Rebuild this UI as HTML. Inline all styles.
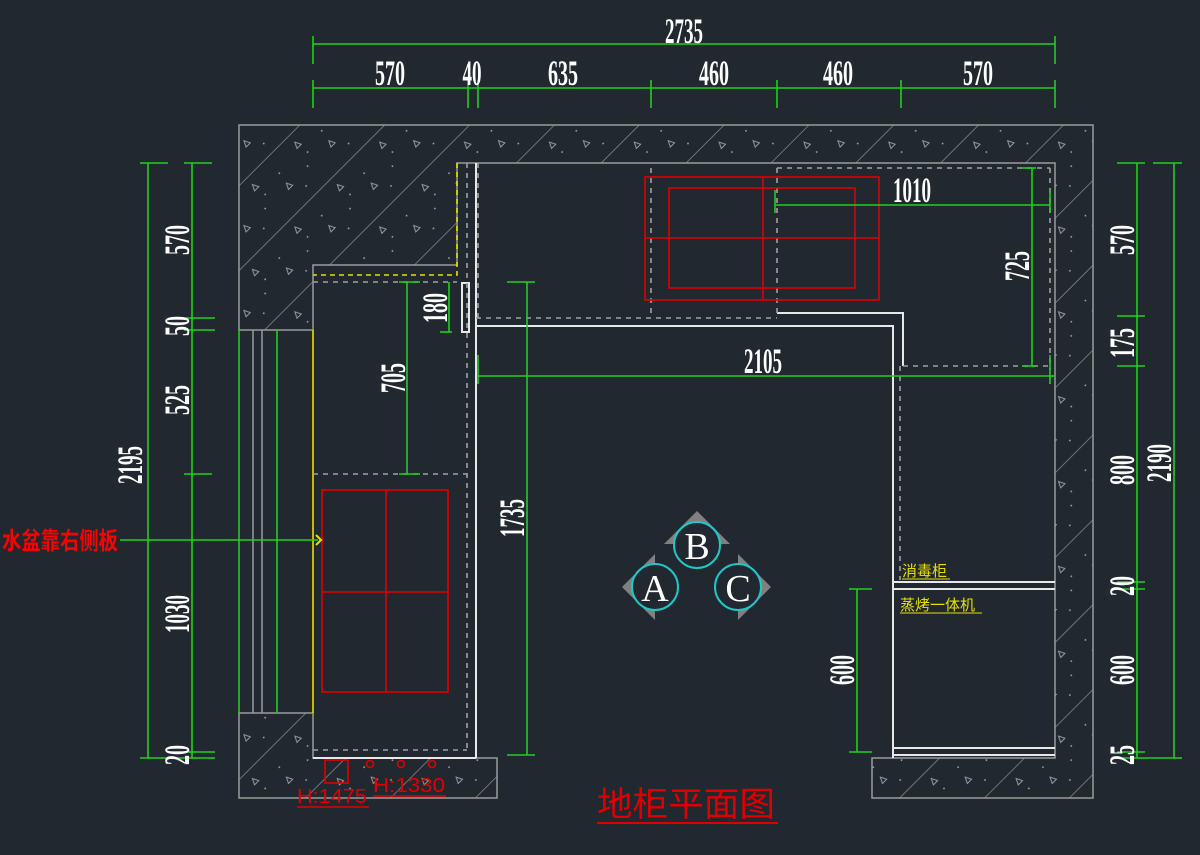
<!DOCTYPE html>
<html><head><meta charset="utf-8"><style>
html,body{margin:0;padding:0;background:#212830;}
svg{display:block}
.d{font-family:"Liberation Serif",serif;font-size:36px;font-weight:bold;fill:#fff;}
.g{stroke:#1fd01f;stroke-width:1.6;fill:none}
.w{stroke:#e8e8e8;stroke-width:2;fill:none}
.gr{stroke:#9a9a9a;stroke-width:1.5;fill:none}
.ds{stroke:#a0a0a0;stroke-width:1.6;fill:none;stroke-dasharray:5 5}
.yd{stroke:#e8e000;stroke-width:1.6;fill:none;stroke-dasharray:5 4}
.r{stroke:#e00000;stroke-width:1.6;fill:none}
</style></head><body>
<svg width="1200" height="855" viewBox="0 0 1200 855" xmlns="http://www.w3.org/2000/svg">
<defs>
<pattern id="h" width="60" height="60" patternUnits="userSpaceOnUse" patternTransform="rotate(-45)">
<rect width="60" height="60" fill="#212830"/>
<line x1="0" y1="0" x2="60" y2="0" stroke="#8a8a8a" stroke-width="1.6"/>
<circle cx="15" cy="20" r="0.9" fill="#aaa"/><circle cx="40" cy="35" r="0.9" fill="#aaa"/><circle cx="25" cy="48" r="0.9" fill="#aaa"/><circle cx="50" cy="25" r="0.9" fill="#aaa"/>
<path d="M45 15 l6 0 l-3 -6z" stroke="#999" fill="none" stroke-width="1"/>
<path d="M10 38 l6 0 l-3 -6z" stroke="#999" fill="none" stroke-width="1"/>
</pattern>
</defs>
<rect width="1200" height="855" fill="#212830"/>
<!-- walls -->
<path d="M239 125 H1093 V798 H872 V758 H1055 V163 H457 V265 H313 V330 H239 Z" style="fill:url(#h);stroke:#9a9a9a;stroke-width:1.5"/>
<path d="M239 713 H313 V758 H497 V798 H239 Z" style="fill:url(#h);stroke:#9a9a9a;stroke-width:1.5"/>
<!-- sink lines -->
<line x1="239" y1="330" x2="239" y2="713" class="g"/>
<line x1="277" y1="330" x2="277" y2="713" class="g"/>
<line x1="253" y1="330" x2="253" y2="713" class="gr"/>
<line x1="262" y1="330" x2="262" y2="713" class="gr"/>
<line x1="313" y1="330" x2="313" y2="713" stroke="#e8e000" stroke-width="1.6"/>
<!-- cabinets white -->
<line x1="476" y1="163" x2="476" y2="758" class="w"/>
<line x1="313" y1="758" x2="476" y2="758" class="w"/>
<path d="M476 326 H893 V758" class="w"/>
<path d="M777 313 H903 V366" class="w"/>
<line x1="893" y1="582" x2="1055" y2="582" class="w"/>
<line x1="893" y1="589" x2="1055" y2="589" class="w"/>
<line x1="893" y1="748" x2="1055" y2="748" class="w"/>
<line x1="893" y1="755" x2="1055" y2="755" class="w"/>
<rect x="462" y="283" width="7" height="49" class="w" stroke-width="1.5"/>
<!-- dashed -->
<line x1="467" y1="163" x2="467" y2="750" class="ds"/>
<line x1="313" y1="750" x2="467" y2="750" class="ds"/>
<line x1="478" y1="163" x2="478" y2="318" class="ds"/>
<line x1="313" y1="282" x2="457" y2="282" class="ds"/>
<line x1="313" y1="474" x2="467" y2="474" class="ds"/>
<line x1="476" y1="318" x2="777" y2="318" class="ds"/>
<line x1="651" y1="168" x2="651" y2="318" class="ds"/>
<line x1="777" y1="168" x2="777" y2="318" class="ds"/>
<line x1="777" y1="168" x2="1050" y2="168" class="ds"/>
<line x1="1050" y1="168" x2="1050" y2="370" class="ds"/>
<line x1="903" y1="366" x2="1050" y2="366" class="ds"/>
<line x1="900" y1="366" x2="900" y2="580" class="ds"/>
<path d="M457 163 V275 H313" class="yd"/>
<!-- red -->
<rect x="322" y="490" width="126" height="202" class="r"/>
<line x1="386" y1="490" x2="386" y2="692" class="r"/><line x1="322" y1="592" x2="448" y2="592" class="r"/>
<rect x="645" y="177" width="234" height="123" class="r"/>
<rect x="669" y="188" width="186" height="100" class="r"/>
<line x1="763" y1="177" x2="763" y2="300" class="r"/><line x1="645" y1="238" x2="879" y2="238" class="r"/>
<rect x="325" y="760" width="23" height="23" class="r"/>
<circle cx="370" cy="764" r="3.5" class="r"/><circle cx="401" cy="764" r="3.5" class="r"/><circle cx="432" cy="764" r="3.5" class="r"/>
<!-- green dims top -->
<g class="g">
<line x1="313" y1="44" x2="1055" y2="44"/>
<line x1="313" y1="36" x2="313" y2="64"/><line x1="1055" y1="36" x2="1055" y2="64"/>
<line x1="313" y1="88" x2="1055" y2="88"/>
<line x1="313" y1="80" x2="313" y2="108"/><line x1="468" y1="80" x2="468" y2="108"/><line x1="478" y1="80" x2="478" y2="108"/>
<line x1="651" y1="80" x2="651" y2="108"/><line x1="777" y1="80" x2="777" y2="108"/><line x1="901" y1="80" x2="901" y2="108"/><line x1="1055" y1="80" x2="1055" y2="108"/>
<line x1="148" y1="163" x2="148" y2="758"/><line x1="192" y1="163" x2="192" y2="758"/>
<line x1="140" y1="163" x2="168" y2="163"/><line x1="184" y1="163" x2="212" y2="163"/>
<line x1="184" y1="318" x2="215" y2="318"/><line x1="184" y1="330" x2="215" y2="330"/>
<line x1="184" y1="474" x2="212" y2="474"/><line x1="184" y1="752" x2="215" y2="752"/>
<line x1="140" y1="758" x2="215" y2="758"/>
<line x1="1137" y1="163" x2="1137" y2="758"/><line x1="1174" y1="163" x2="1174" y2="758"/>
<line x1="1117" y1="163" x2="1145" y2="163"/><line x1="1153" y1="163" x2="1182" y2="163"/>
<line x1="1117" y1="316" x2="1145" y2="316"/><line x1="1117" y1="366" x2="1145" y2="366"/>
<line x1="1117" y1="582" x2="1145" y2="582"/><line x1="1117" y1="589" x2="1145" y2="589"/>
<line x1="1117" y1="752" x2="1145" y2="752"/><line x1="1117" y1="758" x2="1182" y2="758"/>
<line x1="407" y1="282" x2="407" y2="474"/><line x1="399" y1="282" x2="420" y2="282"/><line x1="399" y1="474" x2="420" y2="474"/>
<line x1="449" y1="282" x2="449" y2="332"/><line x1="440" y1="332" x2="452" y2="332"/>
<line x1="527" y1="282" x2="527" y2="755"/><line x1="507" y1="282" x2="535" y2="282"/><line x1="507" y1="755" x2="535" y2="755"/>
<line x1="478" y1="376" x2="1055" y2="376"/><line x1="478" y1="355" x2="478" y2="384"/><line x1="1050" y1="355" x2="1050" y2="384"/>
<line x1="775" y1="205" x2="1050" y2="205"/><line x1="775" y1="190" x2="775" y2="213"/><line x1="1050" y1="190" x2="1050" y2="213"/>
<line x1="1032" y1="168" x2="1032" y2="366"/><line x1="1022" y1="168" x2="1036" y2="168"/><line x1="1022" y1="366" x2="1036" y2="366"/>
<line x1="857" y1="589" x2="857" y2="752"/><line x1="849" y1="589" x2="872" y2="589"/><line x1="849" y1="752" x2="872" y2="752"/>
<line x1="120" y1="540" x2="318" y2="540"/>
</g>
<path d="M316 535 L321 540 L316 545" stroke="#e8e000" stroke-width="2" fill="none"/>
<!-- dim text -->
<g class="d" text-anchor="middle">
<text x="684" y="43" textLength="38" lengthAdjust="spacingAndGlyphs">2735</text>
<text x="390" y="85" textLength="30" lengthAdjust="spacingAndGlyphs">570</text>
<text x="472" y="85" textLength="19" lengthAdjust="spacingAndGlyphs">40</text>
<text x="563" y="85" textLength="30" lengthAdjust="spacingAndGlyphs">635</text>
<text x="714" y="85" textLength="30" lengthAdjust="spacingAndGlyphs">460</text>
<text x="838" y="85" textLength="30" lengthAdjust="spacingAndGlyphs">460</text>
<text x="978" y="85" textLength="30" lengthAdjust="spacingAndGlyphs">570</text>
<text x="912" y="202" textLength="38" lengthAdjust="spacingAndGlyphs">1010</text>
<text x="763" y="373" textLength="38" lengthAdjust="spacingAndGlyphs">2105</text>
<text transform="translate(142,465) rotate(-90)" textLength="38" lengthAdjust="spacingAndGlyphs">2195</text>
<text transform="translate(189,240) rotate(-90)" textLength="30" lengthAdjust="spacingAndGlyphs">570</text>
<text transform="translate(189,326) rotate(-90)" textLength="20" lengthAdjust="spacingAndGlyphs">50</text>
<text transform="translate(189,400) rotate(-90)" textLength="30" lengthAdjust="spacingAndGlyphs">525</text>
<text transform="translate(189,614) rotate(-90)" textLength="38" lengthAdjust="spacingAndGlyphs">1030</text>
<text transform="translate(189,755) rotate(-90)" textLength="20" lengthAdjust="spacingAndGlyphs">20</text>
<text transform="translate(1134,240) rotate(-90)" textLength="30" lengthAdjust="spacingAndGlyphs">570</text>
<text transform="translate(1134,343) rotate(-90)" textLength="30" lengthAdjust="spacingAndGlyphs">175</text>
<text transform="translate(1134,470) rotate(-90)" textLength="30" lengthAdjust="spacingAndGlyphs">800</text>
<text transform="translate(1134,586) rotate(-90)" textLength="20" lengthAdjust="spacingAndGlyphs">20</text>
<text transform="translate(1134,670) rotate(-90)" textLength="30" lengthAdjust="spacingAndGlyphs">600</text>
<text transform="translate(1134,755) rotate(-90)" textLength="20" lengthAdjust="spacingAndGlyphs">25</text>
<text transform="translate(1171,463) rotate(-90)" textLength="38" lengthAdjust="spacingAndGlyphs">2190</text>
<text transform="translate(405,378) rotate(-90)" textLength="30" lengthAdjust="spacingAndGlyphs">705</text>
<text transform="translate(447,308) rotate(-90)" textLength="30" lengthAdjust="spacingAndGlyphs">180</text>
<text transform="translate(524,518) rotate(-90)" textLength="38" lengthAdjust="spacingAndGlyphs">1735</text>
<text transform="translate(1029,266) rotate(-90)" textLength="30" lengthAdjust="spacingAndGlyphs">725</text>
<text transform="translate(854,670) rotate(-90)" textLength="30" lengthAdjust="spacingAndGlyphs">600</text>
</g>
<!-- ABC -->
<g fill="#808080">
<path d="M697 511 L730 544 L664 544Z"/>
<path d="M622 587 L655 554 L655 620Z"/>
<path d="M771 587 L738 554 L738 620Z"/>
</g>
<g stroke="#1ec8c8" stroke-width="2" fill="#212830">
<circle cx="697" cy="545" r="23"/><circle cx="655" cy="587" r="23"/><circle cx="738" cy="587" r="23"/>
</g>
<g font-family="Liberation Serif,serif" font-size="38" fill="#fff" text-anchor="middle">
<text x="697" y="559">B</text><text x="655" y="601">A</text><text x="738" y="601">C</text>
</g>
<!-- labels -->
<text x="2" y="549" font-family="'Liberation Sans','Noto Sans CJK SC',sans-serif" font-size="24" font-weight="bold" fill="#f00" textLength="116" lengthAdjust="spacingAndGlyphs">水盆靠右侧板</text>
<g font-family="'Liberation Sans','Noto Sans CJK SC',sans-serif" font-size="15" fill="#e8e000">
<text x="902" y="576">消毒柜</text><line x1="902" y1="579" x2="950" y2="579" stroke="#e8e000"/>
<text x="900" y="610">蒸烤一体机</text><line x1="900" y1="613" x2="982" y2="613" stroke="#e8e000"/>
</g>
<g font-family="'Liberation Sans',sans-serif" font-size="20" fill="#e00000">
<text x="297" y="803" textLength="70" lengthAdjust="spacingAndGlyphs">H:1475</text>
<line x1="297" y1="807" x2="369" y2="807" stroke="#e00000" stroke-width="1.6"/>
<text x="373" y="792" textLength="72" lengthAdjust="spacingAndGlyphs">H:1330</text>
<line x1="373" y1="796" x2="446" y2="796" stroke="#e00000" stroke-width="1.6"/>
</g>
<text x="597" y="816" font-family="'Liberation Sans','Noto Sans CJK SC',sans-serif" font-size="34" fill="#e00000" textLength="178" lengthAdjust="spacingAndGlyphs">地柜平面图</text>
<line x1="597" y1="823" x2="778" y2="823" stroke="#e00000" stroke-width="2"/>
</svg>
</body></html>
